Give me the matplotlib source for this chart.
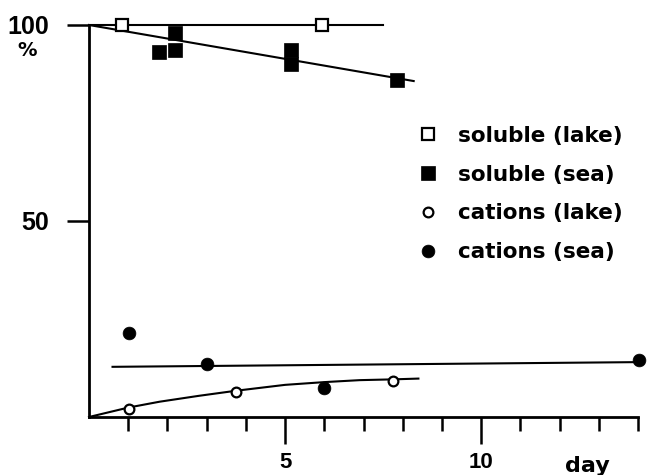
"""
Soluble fraction and cation fraction (%) versus time (day),
lake water vs sea water.
"""

import matplotlib
matplotlib.use("Agg")
import matplotlib.pyplot as plt

# --- data ---------------------------------------------------------------
soluble_lake_day = [0.85, 5.95]
soluble_lake_pct = [100.0, 100.0]

soluble_sea_day = [1.79, 2.19, 2.19, 5.14, 5.14, 7.86]
soluble_sea_pct = [93.0, 97.9, 93.6, 93.7, 90.1, 85.9]

cations_lake_day = [1.01, 3.75, 7.75]
cations_lake_pct = [2.1, 6.45, 9.3]

cations_sea_day = [1.03, 3.02, 6.0, 14.02]
cations_sea_pct = [21.5, 13.5, 7.4, 14.5]

# fitted lines as drawn in the figure
soluble_lake_fit_day = [0.0, 7.5]
soluble_lake_fit_pct = [100.0, 100.0]

soluble_sea_fit_day = [0.0, 8.28]
soluble_sea_fit_pct = [100.0, 85.7]

cations_sea_fit_day = [0.6, 14.0]
cations_sea_fit_pct = [12.8, 14.0]

cations_lake_fit_day = [0.0, 1.0, 1.8, 2.8, 3.75, 5.0, 6.0, 6.9, 7.75, 8.4]
cations_lake_fit_pct = [0.0, 2.4, 3.9, 5.4, 6.7, 8.2, 8.9, 9.4, 9.6, 9.8]

x_major = [5, 10]
x_minor = [1, 2, 3, 4, 6, 7, 8, 9, 11, 12, 13, 14]
y_ticks = [50, 100]

legend_labels = ["soluble (lake)", "soluble (sea)", "cations (lake)", "cations (sea)"]

# fonts
NUM_FONT = ["Liberation Sans", "DejaVu Sans"]
TXT_FONT = ["DejaVu Sans"]

W, H = 647, 475


def main():
    fig = plt.figure(figsize=(W / 100, H / 100), dpi=100)
    ax = fig.add_axes([89 / W, 58 / H, 549 / W, 392 / H])

    lw = 1.5
    # fit lines
    ax.plot(soluble_lake_fit_day, soluble_lake_fit_pct, color="black", lw=lw, clip_on=False)
    ax.plot(soluble_sea_fit_day, soluble_sea_fit_pct, color="black", lw=lw, clip_on=False)
    ax.plot(cations_sea_fit_day, cations_sea_fit_pct, color="black", lw=lw, clip_on=False)
    ax.plot(cations_lake_fit_day, cations_lake_fit_pct, color="black", lw=lw, clip_on=False)

    # data points
    h1, = ax.plot(soluble_lake_day, soluble_lake_pct, ls="none", marker="s", ms=8,
                  mfc="white", mec="black", mew=1.6, clip_on=False, zorder=5,
                  label=legend_labels[0])
    h2, = ax.plot(soluble_sea_day, soluble_sea_pct, ls="none", marker="s", ms=9.5,
                  mfc="black", mec="black", mew=0.5, clip_on=False, zorder=5,
                  label=legend_labels[1])
    h3, = ax.plot(cations_lake_day, cations_lake_pct, ls="none", marker="o", ms=7,
                  mfc="white", mec="black", mew=1.6, clip_on=False, zorder=5,
                  label=legend_labels[2])
    h4, = ax.plot(cations_sea_day, cations_sea_pct, ls="none", marker="o", ms=9.2,
                  mfc="black", mec="black", mew=0.5, clip_on=False, zorder=5,
                  label=legend_labels[3])

    ax.set_xlim(0, 14)
    ax.set_ylim(0, 100)

    # axes: only left and bottom
    for side in ("top", "right"):
        ax.spines[side].set_visible(False)
    for side in ("left", "bottom"):
        ax.spines[side].set_linewidth(2.0)
        ax.spines[side].set_capstyle("projecting")

    # x ticks
    ax.set_xticks(x_major)
    ax.set_xticklabels([str(v) for v in x_major], family=NUM_FONT,
                       fontweight="bold", fontsize=16)
    ax.set_xticks(x_minor, minor=True)
    ax.tick_params(axis="x", which="major", direction="out", length=19.5,
                   width=1.8, pad=6)
    ax.tick_params(axis="x", which="minor", direction="out", length=10,
                   width=1.8)

    # y ticks
    ax.set_yticks(y_ticks)
    ax.set_yticklabels([str(v) for v in y_ticks], family=NUM_FONT,
                       fontweight="bold", fontsize=18)
    ax.tick_params(axis="y", which="major", direction="out", length=15.5,
                   width=1.8, pad=13.5)

    # unit labels
    fig.text(27 / W, 1 - 50 / H, "%", family=TXT_FONT, fontweight="bold",
             fontsize=14, ha="center", va="center")
    ax.text(0.907, -0.1403, "day", transform=ax.transAxes, family=TXT_FONT,
            fontweight="bold", fontsize=16, ha="center", va="baseline")

    # legend
    ax.legend(handles=[h1, h2, h3, h4], loc="upper left",
              bbox_to_anchor=(419.7 / W, 1 - 126 / H),
              bbox_transform=fig.transFigure, frameon=False, numpoints=1,
              handlelength=0.8, handletextpad=1.0, labelspacing=0.87,
              borderpad=0, borderaxespad=0,
              prop={"family": TXT_FONT, "weight": "bold", "size": 15.5})

    fig.savefig("out.png", dpi=100)


if __name__ == "__main__":
    main()
